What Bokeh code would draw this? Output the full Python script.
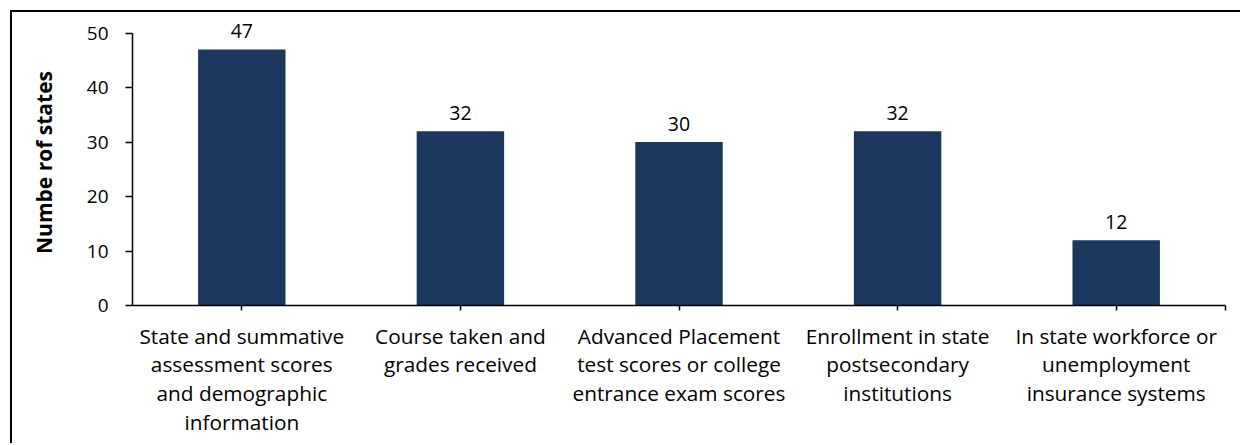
from bokeh.plotting import figure
from bokeh.models import ColumnDataSource, FixedTicker, Range1d, LabelSet
from bokeh.core.properties import value
from bokeh.embed import file_html
from bokeh.resources import INLINE
import numpy as np

categories = [
    "State and summative\nassessment scores\nand demographic\ninformation",
    "Course taken and\ngrades received",
    "Advanced Placement\ntest scores or college\nentrance exam scores",
    "Enrollment in state\npostsecondary\ninstitutions",
    "In state workforce or\nunemployment\ninsurance systems",
]
values = [47, 32, 30, 32, 12]
y_ticks = [0, 10, 20, 30, 40, 50]
y_title = "Numbe rof states"

FONT = "Open Sans"
BAR = "#1C375E"

n = len(categories)
xs = np.arange(n) + 0.5
src = ColumnDataSource(dict(x=xs, top=values, label=[str(v) for v in values]))

p = figure(width=1230, height=433, output_backend="svg", toolbar_location=None,
           x_range=Range1d(0, n), y_range=Range1d(0, 52.5),
           min_border_left=120, min_border_top=7, min_border_bottom=140, min_border_right=17)
p.styles = {"border-left": "2px solid #000", "border-top": "2px solid #000",
            "margin-left": "10px", "margin-top": "10px"}
p.outline_line_color = None
p.grid.visible = False
p.background_fill_color = "white"
p.border_fill_color = "white"

p.vbar(x="x", top="top", width=0.4, bottom=0, source=src, fill_color=BAR, line_color=None)
labels = LabelSet(x="x", y="top", text="label", source=src, text_align="center",
                  text_baseline="bottom", y_offset=11, text_font=value(FONT),
                  text_font_size="19.5px", text_color="#000")
p.add_layout(labels)

# x axis
xa = p.xaxis[0]
xa.ticker = FixedTicker(ticks=list(xs) + [n])
overrides = {float(x): c for x, c in zip(xs, categories)}
overrides[float(n)] = ""
xa.major_label_overrides = overrides
xa.major_label_text_font = FONT
xa.major_label_text_font_size = "20.8px"
xa.major_label_text_color = "#000"
xa.major_label_text_line_height = 1.03
xa.major_label_standoff = 11
xa.major_tick_out = 5
xa.major_tick_in = 0
xa.minor_tick_out = 0
xa.minor_tick_in = 0
xa.axis_line_color = "#000"
xa.axis_line_width = 1.5
xa.major_tick_line_color = "#000"
xa.major_tick_line_width = 1.5

# y axis
ya = p.yaxis[0]
ya.ticker = FixedTicker(ticks=y_ticks)
ya.bounds = (0, 50)
ya.major_label_text_font = FONT
ya.major_label_text_font_size = "19px"
ya.major_label_text_color = "#000"
ya.major_label_standoff = 17
ya.major_tick_out = 7
ya.major_tick_in = 0
ya.minor_tick_out = 0
ya.minor_tick_in = 0
ya.axis_line_color = "#000"
ya.axis_line_width = 1.5
ya.major_tick_line_color = "#000"
ya.major_tick_line_width = 1.5
ya.axis_label = y_title
ya.axis_label_text_font = FONT
ya.axis_label_text_font_style = "bold"
ya.axis_label_text_font_size = "21px"
ya.axis_label_text_color = "#000"
ya.axis_label_standoff = 26

open("out.html", "w").write(file_html(p, INLINE))
